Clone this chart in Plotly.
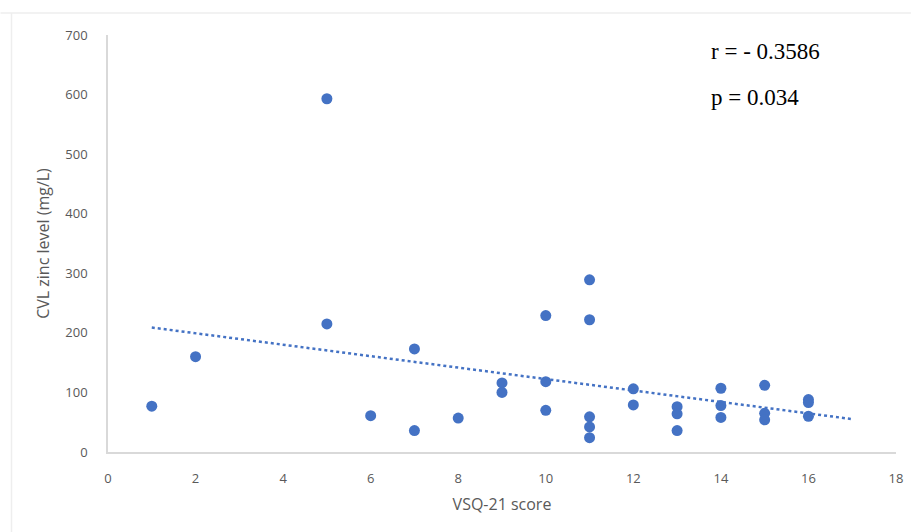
import numpy as np
import plotly.graph_objects as go

vsq_score = [1, 2, 5, 5, 6, 7, 7, 8, 9, 9, 10, 10, 10, 11, 11, 11, 11, 11,
             12, 12, 13, 13, 13, 14, 14, 14, 15, 15, 15, 16, 16, 16]
zinc_level = [77, 160, 593, 215, 61, 173, 36, 57, 116, 100, 229, 118, 70, 289, 222, 59, 42, 24,
              106, 79, 76, 64, 36, 107, 78, 58, 112, 65, 54, 88, 83, 60]
x_ticks = [0, 2, 4, 6, 8, 10, 12, 14, 16, 18]
y_ticks = [0, 100, 200, 300, 400, 500, 600, 700]
stats_text = ["r = - 0.3586", "p = 0.034"]

slope, intercept = np.polyfit(vsq_score, zinc_level, 1)
trend_x = [1, 17]
trend_y = [slope * v + intercept for v in trend_x]

blue = "#4472C4"
fig = go.Figure()
fig.add_trace(go.Scatter(x=trend_x, y=trend_y, mode="lines",
                         line=dict(color=blue, width=2.5, dash="dot"),
                         hoverinfo="skip", showlegend=False))
fig.add_trace(go.Scatter(x=vsq_score, y=zinc_level, mode="markers",
                         marker=dict(color=blue, size=11),
                         showlegend=False))

fig.update_layout(
    width=915, height=532,
    margin=dict(l=108, r=15, t=35, b=80),
    paper_bgcolor="white", plot_bgcolor="white",
    font=dict(family="Open Sans, Liberation Sans, sans-serif", color="#595959", size=13),
    xaxis=dict(range=[0, 18], tickvals=x_ticks, showgrid=False, zeroline=False,
               showline=True, linecolor="#d9d9d9", linewidth=1.5,
               ticks="", ticklabelstandoff=14,
               title=dict(text="VSQ-21 score", font=dict(size=16, color="#595959"), standoff=12)),
    yaxis=dict(range=[0, 700], tickvals=y_ticks, showgrid=False, zeroline=False,
               showline=True, linecolor="#d9d9d9", linewidth=1.5,
               ticks="", ticklabelstandoff=16,
               title=dict(text="CVL zinc level (mg/L)", font=dict(size=16, color="#595959"), standoff=12)),
    shapes=[dict(type="line", xref="paper", yref="paper", x0=-108/792, x1=1 + 15/792,
                 y0=1 + 22/417, y1=1 + 22/417, line=dict(color="#eeeeee", width=1.5)),
            dict(type="line", xref="paper", yref="paper", x0=-97/792, x1=-97/792,
                 y0=-80/417, y1=1 + 22/417, line=dict(color="#eeeeee", width=1.5))],
)
for i, t in enumerate(stats_text):
    fig.add_annotation(text=t, xref="paper", yref="paper",
                       x=(712 - 108) / 792, y=1 - (52 + 46 * i - 35) / 417,
                       xanchor="left", yanchor="middle", showarrow=False,
                       font=dict(family="Liberation Serif, Times New Roman, serif", size=23, color="black"))

fig.write_html("out.html", config={"displayModeBar": False},
               post_script="document.body.style.margin='0';document.body.style.padding='0';")
